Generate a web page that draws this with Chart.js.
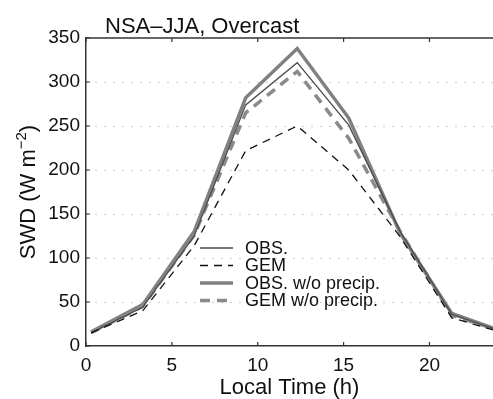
<!DOCTYPE html>
<html lang="en">
<head>
<meta charset="UTF-8">
<title>NSA-JJA, Overcast</title>
<script src="https://cdn.jsdelivr.net/npm/chart.js"></script>
<style>
  body { margin: 0; background: #fff; }
  #wrap { width: 493px; height: 399px; position: relative; }
</style>
</head>
<body>
<div id="wrap"><canvas id="swdChart"></canvas></div>
<script>
// local time of the 3-hourly points (h)
const hours = [0.3, 3.3, 6.3, 9.3, 12.3, 15.3, 18.3, 21.3, 24.3];
// SWD (W m-2)
const obs          = [15, 44, 125, 274, 322, 251, 130, 36, 16];
const gem          = [15, 40, 114, 222, 250, 200, 124, 32, 15];
const obsNoPrecip  = [16, 47, 130, 282, 338, 259, 128, 37, 16];
const gemNoPrecip  = [15, 45, 126, 265, 312, 236, 130, 35, 16];

const seriesNames = ['OBS.', 'GEM', 'OBS. w/o precip.', 'GEM w/o precip.'];
const titleText = 'NSA\u2013JJA, Overcast';
const xTitle = 'Local Time (h)';

const FONT = '"Liberation Sans", Arial, sans-serif';

function pts(vals) {
    return hours.map((h, i) => ({ x: h, y: vals[i] }));
}

// title, y title with superscript, inward ticks, top frame, legend
const decorations = {
    id: 'decorations',
    afterDraw(chart) {
        const ctx = chart.ctx;
        const area = chart.chartArea;
        const xs = chart.scales.x, ys = chart.scales.y;
        ctx.save();

        // top frame line
        ctx.strokeStyle = '#333';
        ctx.lineWidth = 1.5;
        ctx.beginPath();
        ctx.moveTo(area.left, area.top);
        ctx.lineTo(area.right, area.top);
        ctx.stroke();

        // inward ticks
        ctx.lineWidth = 1.2;
        ctx.beginPath();
        xs.ticks.forEach(t => {
            const px = xs.getPixelForValue(t.value);
            ctx.moveTo(px, area.bottom); ctx.lineTo(px, area.bottom - 4);
            ctx.moveTo(px, area.top); ctx.lineTo(px, area.top + 4);
        });
        ys.ticks.forEach(t => {
            const py = ys.getPixelForValue(t.value);
            ctx.moveTo(area.left, py); ctx.lineTo(area.left + 4, py);
        });
        ctx.stroke();

        // title
        ctx.fillStyle = '#111';
        ctx.font = '22px ' + FONT;
        ctx.textAlign = 'left';
        ctx.textBaseline = 'alphabetic';
        ctx.fillText(titleText, 105, 33);

        // y axis title: SWD (W m^-2)
        const main1 = 'SWD (W m', sup = '\u22122', main2 = ')';
        ctx.font = '22px ' + FONT;
        const w1 = ctx.measureText(main1).width;
        const w3 = ctx.measureText(main2).width;
        ctx.font = '15px ' + FONT;
        const w2 = ctx.measureText(sup).width;
        const total = w1 + w2 + w3;
        const cy = (area.top + area.bottom) / 2;
        ctx.translate(35, cy);
        ctx.rotate(-Math.PI / 2);
        let x0 = -total / 2;
        ctx.font = '22px ' + FONT;
        ctx.fillText(main1, x0, 0);
        ctx.font = '15px ' + FONT;
        ctx.fillText(sup, x0 + w1, -9);
        ctx.font = '22px ' + FONT;
        ctx.fillText(main2, x0 + w1 + w2, 0);
        ctx.setTransform(1, 0, 0, 1, 0, 0);

        // legend
        const lx = 200, lLen = 33, tx = 245, ly0 = 248, step = 17.5;
        ctx.font = '18px ' + FONT;
        ctx.textBaseline = 'middle';
        chart.data.datasets.forEach((ds, i) => {
            const y = ly0 + i * step;
            ctx.strokeStyle = ds.borderColor;
            ctx.lineWidth = ds.borderWidth;
            ctx.setLineDash(ds.borderDash || []);
            ctx.beginPath();
            ctx.moveTo(lx, y);
            ctx.lineTo(lx + lLen, y);
            ctx.stroke();
            ctx.setLineDash([]);
            ctx.fillStyle = '#111';
            ctx.fillText(ds.label, tx, y + 1);
        });
        ctx.restore();
    }
};

const ctx = document.getElementById('swdChart').getContext('2d');
new Chart(ctx, {
    type: 'line',
    data: {
        datasets: [
            { label: seriesNames[0], data: pts(obs), borderColor: '#4a4a4a', borderWidth: 1.3, order: 2 },
            { label: seriesNames[1], data: pts(gem), borderColor: '#111', borderWidth: 1.3, borderDash: [8, 6], order: 1 },
            { label: seriesNames[2], data: pts(obsNoPrecip), borderColor: '#808080', borderWidth: 3.5, order: 4 },
            { label: seriesNames[3], data: pts(gemNoPrecip), borderColor: '#8a8a8a', borderWidth: 3.5, borderDash: [10, 7], order: 3 }
        ]
    },
    options: {
        responsive: true,
        maintainAspectRatio: false,
        animation: false,
        layout: { padding: { top: 38, right: 0, left: 0, bottom: 0 } },
        elements: { point: { radius: 0 }, line: { tension: 0, fill: false } },
        plugins: { legend: { display: false }, tooltip: { enabled: false } },
        scales: {
            x: {
                type: 'linear',
                min: 0,
                max: 23.7,
                afterFit: s => { s.height = 53; },
                grid: { display: false, drawTicks: false },
                border: { display: true, color: '#333', width: 1.5 },
                ticks: { stepSize: 5, includeBounds: false, padding: 8, color: '#111', font: { family: FONT, size: 19 } },
                title: { display: true, text: xTitle, color: '#111', font: { family: FONT, size: 22, lineHeight: 1.0 }, padding: { top: 0, bottom: 0 } }
            },
            y: {
                min: 0,
                max: 350,
                afterFit: s => { s.width = 86; },
                grid: { drawTicks: false, color: ctx => (ctx.tick.value === 0 || ctx.tick.value === 350) ? 'rgba(0,0,0,0)' : '#9a9a9a', lineWidth: 1 },
                border: { display: true, color: '#333', width: 1.5, dash: [1, 8] },
                ticks: { stepSize: 50, padding: 6, color: '#111', font: { family: FONT, size: 19 } }
            }
        }
    },
    plugins: [decorations]
});
</script>
</body>
</html>
